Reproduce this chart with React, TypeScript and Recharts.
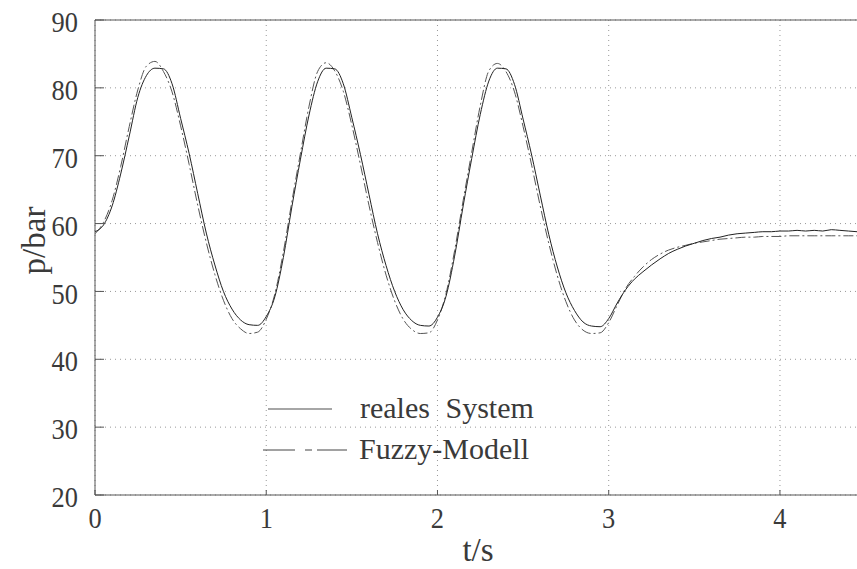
import React from 'react';
import { LineChart, Line, XAxis, YAxis, CartesianGrid, ReferenceLine } from 'recharts';

const times = [
  0.0, 0.05, 0.1, 0.15, 0.2, 0.25, 0.3, 0.35, 0.4, 0.45,
  0.5, 0.55, 0.6, 0.65, 0.7, 0.75, 0.8, 0.85, 0.9, 0.95,
  1.0, 1.05, 1.1, 1.15, 1.2, 1.25, 1.3, 1.35, 1.4, 1.45,
  1.5, 1.55, 1.6, 1.65, 1.7, 1.75, 1.8, 1.85, 1.9, 1.95,
  2.0, 2.05, 2.1, 2.15, 2.2, 2.25, 2.3, 2.35, 2.4, 2.45,
  2.5, 2.55, 2.6, 2.65, 2.7, 2.75, 2.8, 2.85, 2.9, 2.95,
  3.0, 3.05, 3.1, 3.15, 3.2, 3.25, 3.3, 3.35, 3.4, 3.45,
  3.5, 3.55, 3.6, 3.65, 3.7, 3.75, 3.8, 3.85, 3.9, 3.95,
  4.0, 4.05, 4.1, 4.15, 4.2, 4.25, 4.3, 4.35, 4.4, 4.45,
];

const realesSystem = [
  58.8, 59.8, 62.6, 67.3, 72.9, 78.6, 81.8, 82.9, 82.8, 80.6,
  75.5, 70.3, 64.4, 58.6, 53.9, 50.0, 47.4, 45.8, 45.1, 45.0,
  46.3, 49.2, 55.0, 62.5, 69.5, 76.0, 80.9, 82.9, 82.8, 80.6,
  75.6, 70.2, 64.3, 58.5, 53.8, 50.0, 47.3, 45.7, 45.0, 44.9,
  46.2, 49.3, 55.2, 62.6, 69.6, 76.1, 81.0, 82.9, 82.8, 80.5,
  75.4, 70.1, 64.2, 58.4, 53.6, 49.8, 47.2, 45.5, 44.9, 44.8,
  46.0, 48.3, 50.3, 51.8, 52.9, 53.9, 54.8, 55.6, 56.2, 56.7,
  57.1, 57.5, 57.8, 58.0, 58.3, 58.5, 58.6, 58.7, 58.8, 58.8,
  58.9, 58.9, 59.0, 58.9, 59.0, 58.9, 59.1, 59.0, 58.9, 58.8,
];

const fuzzyModell = [
  58.5, 60.2, 63.4, 68.4, 74.3, 79.7, 83.2, 83.9, 82.4, 79.4,
  74.4, 68.7, 62.7, 57.2, 52.5, 48.7, 46.0, 44.5, 43.8, 44.0,
  45.9, 49.6, 55.8, 63.3, 70.4, 77.3, 82.4, 83.7, 82.5, 79.5,
  74.5, 68.7, 62.7, 57.2, 52.4, 48.6, 45.9, 44.4, 43.8, 43.9,
  45.8, 49.7, 56.0, 63.4, 70.5, 77.4, 82.5, 83.6, 82.4, 79.4,
  74.3, 68.6, 62.6, 57.1, 52.3, 48.5, 45.8, 44.3, 43.8, 43.9,
  45.4, 48.0, 50.5, 52.2, 53.6, 54.7, 55.5, 56.1, 56.5, 56.8,
  57.1, 57.3, 57.5, 57.7, 57.8, 57.9, 58.0, 58.0, 58.1, 58.1,
  58.1, 58.2, 58.2, 58.2, 58.2, 58.2, 58.2, 58.2, 58.2, 58.2,
];

const xTicks = [0, 1, 2, 3, 4];
const yTicks = [20, 30, 40, 50, 60, 70, 80, 90];
const seriesNames = ['reales System', 'Fuzzy-Modell'];
const xTitle = 't/s';
const yTitle = 'p/bar';

const data = times.map((t, i) => ({ t, real: realesSystem[i], fuzzy: fuzzyModell[i] }));

const FONT = 'Liberation Serif';
const TEXT = '#3a3a3a';
const AXIS = '#555';

function YTick(props: any) {
  const { x, y, payload } = props;
  return (
    <g>
      <line x1={x} x2={x + 9} y1={y} y2={y} stroke={AXIS} strokeWidth={1} />
      <text
        transform={`translate(${x - 17} ${y + 2}) scale(0.88 1)`}
        textAnchor="end"
        dominantBaseline="central"
        fontSize={30}
        fontFamily={FONT}
        fill={TEXT}
      >
        {payload.value}
      </text>
    </g>
  );
}

function XTick(props: any) {
  const { x, y, payload } = props;
  return (
    <g>
      <line x1={x} x2={x} y1={y} y2={y - 5} stroke={AXIS} strokeWidth={1} />
      <text
        transform={`translate(${x} ${y + 23}) scale(0.88 1)`}
        textAnchor="middle"
        dominantBaseline="central"
        fontSize={30}
        fontFamily={FONT}
        fill={TEXT}
      >
        {payload.value}
      </text>
    </g>
  );
}

function XTitle(props: any) {
  const vb = props.viewBox || { x: 95, y: 495, width: 762, height: 74 };
  return (
    <text x={vb.x + vb.width / 2 + 2} y={vb.y + 55} textAnchor="middle" dominantBaseline="central" fontSize={33} fontFamily={FONT} fill={TEXT}>
      {xTitle}
    </text>
  );
}

function YTitle(props: any) {
  const vb = props.viewBox || { x: 0, y: 20, width: 95, height: 475 };
  const cx = vb.x + 34;
  const cy = vb.y + vb.height / 2 - 17;
  return (
    <text x={cx} y={cy} transform={`rotate(-90 ${cx} ${cy})`} textAnchor="middle" dominantBaseline="central" fontSize={33} fontFamily={FONT} fill={TEXT}>
      {yTitle}
    </text>
  );
}

function LegendOverlay() {
  return (
    <svg width={857} height={569} style={{ position: 'absolute', left: 0, top: 0, pointerEvents: 'none' }}>
      <line x1={268} x2={332} y1={409} y2={409} stroke="#888" strokeWidth={1.3} />
      <text x={360} y={418} fontSize={30} fill={TEXT} fontFamily={FONT} style={{ wordSpacing: '8px' }}>
        {seriesNames[0]}
      </text>
      <line x1={263} x2={347} y1={450} y2={450} stroke="#444" strokeWidth={1} strokeDasharray="32 10 7 5 30 100" />
      <text x={359} y={459} fontSize={30} fontFamily={FONT} fill={TEXT}>
        {seriesNames[1]}
      </text>
    </svg>
  );
}

export default function App() {
  return (
    <div style={{ position: 'absolute', left: 0, top: 0, width: 857, height: 569, background: '#fff' }}>
      <LineChart width={857} height={569} data={data} margin={{ top: 20, right: 0, left: 0, bottom: 0 }}>
        <CartesianGrid stroke="#999" strokeDasharray="1 4" horizontalValues={yTicks} verticalValues={xTicks} />
        <XAxis
          dataKey="t"
          type="number"
          domain={[0, 4.45]}
          ticks={xTicks}
          allowDataOverflow
          height={74}
          tickSize={0}
          tickMargin={0}
          tickLine={false}
          axisLine={{ stroke: AXIS, strokeWidth: 1 }}
          tick={<XTick />}
          interval={0}
          label={<XTitle />}
        />
        <YAxis
          type="number"
          domain={[20, 90]}
          ticks={yTicks}
          allowDataOverflow
          width={95}
          tickSize={0}
          tickMargin={0}
          tickLine={false}
          axisLine={{ stroke: AXIS, strokeWidth: 1 }}
          tick={<YTick />}
          interval={0}
          label={<YTitle />}
        />
        <ReferenceLine y={90} stroke={AXIS} strokeWidth={1} />
        <Line
          dataKey="fuzzy"
          name={seriesNames[1]}
          type="monotone"
          stroke="#555"
          strokeWidth={1}
          strokeDasharray="10 3 2 3"
          dot={false}
          isAnimationActive={false}
        />
        <Line
          dataKey="real"
          name={seriesNames[0]}
          type="monotone"
          stroke="#222"
          strokeWidth={1}
          dot={false}
          isAnimationActive={false}
        />
      </LineChart>
      <LegendOverlay />
    </div>
  );
}
